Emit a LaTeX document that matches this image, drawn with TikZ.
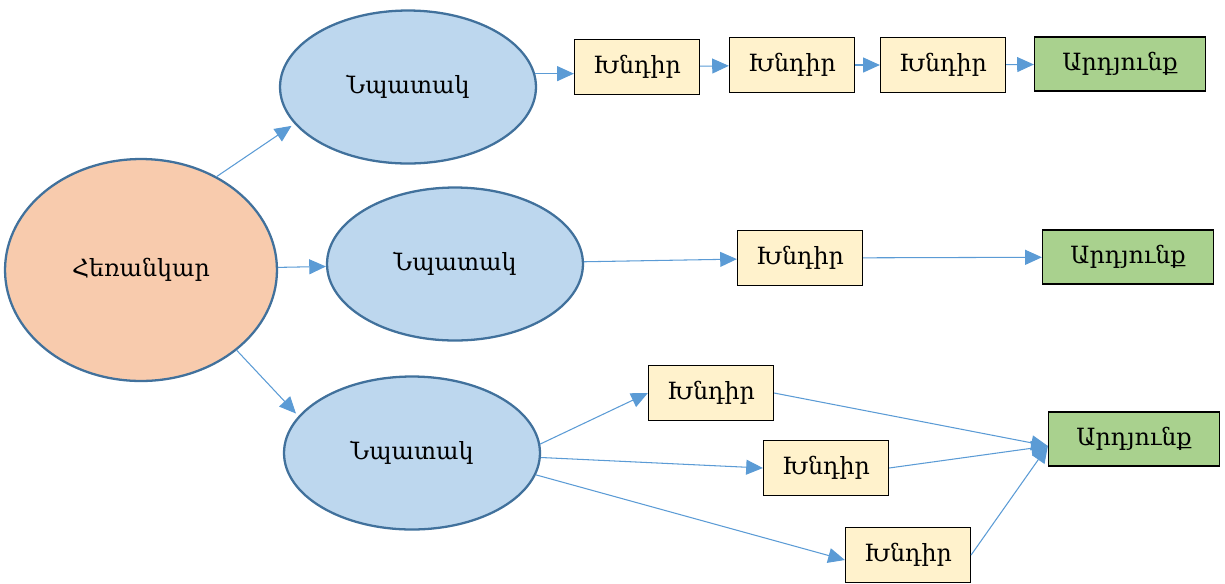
\documentclass[tikz,border=0pt]{standalone}
\usepackage{fontspec}
\setmainfont{DejaVu Serif}
\usetikzlibrary{shapes.geometric,arrows.meta}
\definecolor{visionfill}{HTML}{F8CBAD}
\definecolor{goalfill}{HTML}{BDD7EE}
\definecolor{edgeblue}{HTML}{41719C}
\definecolor{linkblue}{HTML}{5B9BD5}
\definecolor{taskfill}{HTML}{FFF2CC}
\definecolor{resultfill}{HTML}{A9D18E}

\begin{document}
\begin{tikzpicture}[x=0.02cm,y=-0.02cm,
  font=\fontsize{13.5}{15}\selectfont,
  vision/.style={ellipse,draw=edgeblue,line width=1.3pt,fill=visionfill,inner sep=0pt,minimum width=5.44cm,minimum height=4.44cm},
  goal/.style={ellipse,draw=edgeblue,line width=1.3pt,fill=goalfill,inner sep=0pt,minimum width=5.12cm,minimum height=3.06cm},
  task/.style={rectangle,draw=black,line width=0.7pt,fill=taskfill,inner sep=0pt,minimum width=2.5cm,minimum height=1.1cm},
  result/.style={rectangle,draw=black,line width=0.7pt,fill=resultfill,inner sep=0pt,minimum width=3.42cm,minimum height=1.08cm},
  link/.style={draw=linkblue,line width=0.6pt,-{Triangle[length=9.5pt,width=8.5pt]}}]
  \useasboundingbox (0,0) rectangle (1225,583);
  % vision and the three goals
  \node[vision] (H)  at (141,270) {Հեռանկար};
  \node[goal]   (N1) at (408,87)  {Նպատակ};
  \node[goal]   (N2) at (455,264) {Նպատակ};
  \node[goal]   (N3) at (412,453) {Նպատակ};
  % first row
  \node[task]   (K11) at (637,67)  {Խնդիր};
  \node[task]   (K12) at (792,65)  {Խնդիր};
  \node[task]   (K13) at (943,65)  {Խնդիր};
  \node[result] (A1)  at (1120,64) {Արդյունք};
  % second row
  \node[task]   (K21) at (800,258)  {Խնդիր};
  \node[result] (A2)  at (1128,257) {Արդյունք};
  % third row
  \node[task]   (K31) at (711,393)  {Խնդիր};
  \node[task]   (K32) at (826,468)  {Խնդիր};
  \node[task]   (K33) at (908,555)  {Խնդիր};
  \node[result] (A3)  at (1134,439) {Արդյունք};
  \coordinate   (A3in) at ([yshift=-0.14cm]A3.west);
  % vision to goals
  \draw[link,shorten >=2pt] (H.51) -- (N1.198);
  \draw[link] (H) -- (N2);
  \draw[link,shorten >=2pt] (H.-40) -- (N3.162);
  % goal to tasks to results
  \draw[link] (N1.6) -- (N1.6 -| K11.west);
  \draw[link] (K11) -- (K12);
  \draw[link] (K12) -- (K13);
  \draw[link] (K13) -- (A1);
  \draw[link] (N2) -- (K21);
  \draw[link] (K21) -- (A2);
  \draw[link] (N3.4) -- (K31.west);
  \draw[link] (N3.-2) -- (K32.west);
  \draw[link] (N3.-10) -- ([yshift=-0.1cm]K33.west);
  \draw[link] (K31.east) -- (A3in);
  \draw[link] (K32.east) -- (A3in);
  \draw[link] (K33.east) -- (A3in);
\end{tikzpicture}
\end{document}
